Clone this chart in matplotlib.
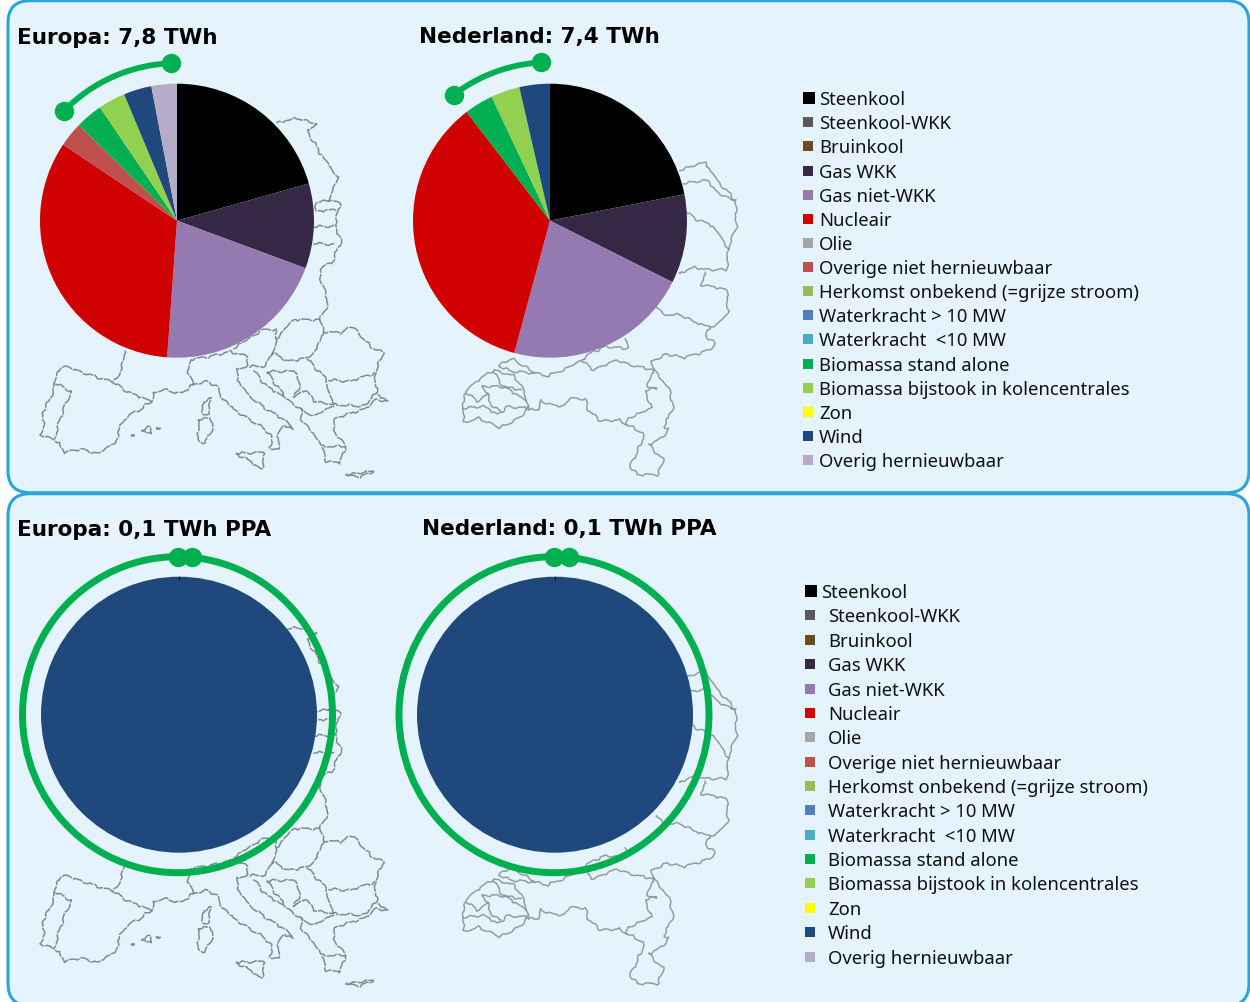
"""Elektriciteitsmix Europa en Nederland, totaal en PPA, op kaartachtergrond."""

import matplotlib

matplotlib.use('Agg')

import matplotlib.pyplot as plt
import numpy as np
from matplotlib.patches import Ellipse, FancyBboxPatch, Rectangle

WIDTH, HEIGHT = 1250, 1003

categories = [
    'Steenkool', 'Steenkool-WKK', 'Bruinkool', 'Gas WKK', 'Gas niet-WKK', 'Nucleair', 'Olie',
    'Overige niet hernieuwbaar', 'Herkomst onbekend (=grijze stroom)', 'Waterkracht > 10 MW',
    'Waterkracht  <10 MW', 'Biomassa stand alone', 'Biomassa bijstook in kolencentrales', 'Zon',
    'Wind', 'Overig hernieuwbaar',
]
colors = [
    '#000000', '#595959', '#6E4A24', '#362945', '#947AB0', '#D00000', '#A6A6A6', '#C0504D',
    '#9BBB59', '#4F81BD', '#4BACC6', '#00B050', '#92D050', '#FFFF00', '#1F497D', '#B7ACC8',
]

# aandeel per categorie in procent, aflezing
europa_mix = [20.6, 0, 0, 10.0, 20.5, 33.2, 0, 2.9, 0, 0, 0, 3.2, 3.2, 0, 3.3, 3.0]
nederland_mix = [21.9, 0, 0, 10.5, 21.8, 35.4, 0, 0, 0, 0, 0, 3.4, 3.4, 0, 3.6, 0]
ppa_mix = [0, 0, 0, 0, 0, 0, 0, 0, 0, 0, 0, 0, 0, 0, 100, 0]

# groene boog: hoeken in graden vanaf boven, met de klok mee
europa_arc = (-2.2, -45.9)
nederland_arc = (-3.3, -37.5)
ppa_dots = (0.0, 5.5)

# kaartlijnen op een raster van 1/3 pixel, oorsprong in EU_ORIGIN / NL_ORIGIN
EU_ORIGIN = (30, 100)
NL_ORIGIN = (450, 150)
EU_LINES = [
    [(250, 848), (200, 832), (150, 815), (108, 800), (80, 815), (75, 850), (60, 900), (35, 940), (45, 965),
     (32, 1005), (65, 1018), (90, 1030), (100, 1058), (150, 1048), (205, 1062), (225, 1045), (245, 1040),
     (265, 1010), (270, 975), (300, 945), (330, 930), (365, 905), (370, 880), (400, 870), (450, 882),
     (490, 855), (530, 843), (560, 860), (575, 895), (620, 935), (660, 960), (700, 985), (725, 1010),
     (720, 1050), (745, 1045), (745, 1000), (760, 975), (790, 990), (770, 965), (720, 935), (665, 895),
     (630, 855), (618, 810), (655, 800)],
    [(75, 850), (125, 875), (105, 915), (90, 960), (75, 1015)],
    [(250, 848), (300, 880), (365, 905)],
    [(285, 750), (275, 810), (250, 848)],
    [(490, 855), (475, 820), (480, 780), (540, 770), (600, 755), (650, 770), (655, 800)],
    [(670, 810), (710, 860), (760, 890), (815, 930), (815, 965), (850, 1000), (875, 1040), (950, 1040),
     (915, 1000), (910, 960), (945, 945), (1000, 930), (1040, 900), (1072, 905), (1040, 880), (1035, 820),
     (1060, 760), (1020, 740), (970, 680), (930, 700), (880, 695), (870, 660), (895, 610), (870, 530),
     (870, 505), (905, 490), (935, 420), (915, 380), (930, 310), (895, 300), (925, 235), (870, 160),
     (830, 90), (865, 75), (800, 55), (740, 70)],
    [(880, 695), (860, 750), (830, 775), (770, 785), (730, 760), (700, 800), (655, 800)],
    [(740, 715), (790, 660), (870, 660)],
    [(610, 745), (700, 690), (740, 690), (740, 715), (730, 760)],
    [(830, 775), (890, 840), (895, 880), (915, 915), (850, 950), (815, 930)],
    [(895, 840), (960, 845), (1035, 820)],
    [(710, 815), (800, 815), (810, 870), (790, 890), (830, 870), (850, 905), (915, 915), (1000, 920), (1040, 880)],
    [(710, 815), (760, 885)],
    [(875, 1040), (890, 1085), (930, 1090), (945, 1045)],
    [(895, 300), (860, 310), (855, 335), (915, 330)],
    [(850, 380), (915, 380)],
    [(850, 430), (915, 435)],
    # eilanden
    [(520, 905), (543, 895), (535, 945), (518, 940), (520, 905)],
    [(505, 958), (545, 955), (548, 985), (525, 1030), (505, 1025), (505, 958)],
    [(335, 990), (360, 980), (368, 998), (350, 1003), (335, 990)],
    [(378, 982), (390, 988), (380, 990), (378, 982)],
    [(302, 1006), (312, 1006), (306, 1010), (302, 1006)],
    [(618, 1060), (650, 1060), (705, 1058), (695, 1110), (660, 1085), (618, 1060)],
    [(950, 1125), (1000, 1118), (1030, 1115), (990, 1132), (950, 1125)],
]
NL_LINES = [
    [(690, 60), (765, 38), (800, 90), (855, 150), (860, 230), (835, 295), (830, 360), (770, 360), (730, 352),
     (690, 372)],
    [(705, 185), (740, 208), (790, 230), (835, 295)],
    [(700, 100), (770, 92), (810, 135), (855, 150)],
    [(765, 365), (755, 405), (830, 420), (835, 490), (795, 530), (750, 525), (690, 495), (640, 495), (620, 470)],
    [(780, 530), (765, 555), (795, 580), (780, 600), (700, 625), (650, 612), (605, 635), (610, 660)],
    [(525, 565), (535, 597), (470, 590), (430, 605), (395, 632), (340, 660), (290, 680), (250, 668), (185, 625),
     (145, 650), (190, 665), (255, 670)],
    [(395, 632), (430, 660), (500, 632), (560, 650), (610, 660), (660, 720), (670, 775), (640, 830), (660, 840),
     (620, 875), (595, 885), (640, 930), (625, 975), (560, 975), (540, 950), (575, 880), (580, 850), (530, 825),
     (510, 810), (450, 815), (415, 780), (405, 748), (355, 745), (345, 770), (300, 765), (270, 750), (265, 780),
     (235, 780), (225, 730), (195, 680), (130, 660), (60, 710), (40, 740), (40, 820), (85, 805), (150, 835),
     (215, 800), (235, 770)],
    [(610, 660), (590, 715), (625, 715), (585, 720), (605, 775), (535, 805), (530, 825)],
    [(50, 730), (85, 755), (115, 730), (95, 710), (150, 710), (215, 720)],
    [(40, 775), (100, 770), (145, 795), (170, 770), (230, 775)],
    [(115, 730), (115, 755), (150, 785)],
    [(130, 665), (160, 710), (225, 750)],
]

GREEN = '#00B050'
LEGEND_ROWS_TOP = [98, 122, 146, 171, 195, 219, 243, 267, 291, 315, 339, 364, 388, 412, 436, 460]
LEGEND_ROWS_BOTTOM = [591, 615, 640, 664, 689, 713, 737, 762, 786, 810, 835, 859, 883, 908, 932, 957]
LEGEND_SIZE = 13.3
TITLE_SIZE = 15.5


def _y(py: float) -> float:
    return HEIGHT - py - 0.7


def _panel(ax, top: float, bottom: float) -> None:
    ax.add_patch(FancyBboxPatch(
        (8, _y(bottom)), 1241, bottom - top,
        boxstyle='round,pad=0,rounding_size=22',
        facecolor='#E5F4FC', edgecolor='#2AA5DB', linewidth=2.2, zorder=1,
    ))


def _wobble(line) -> np.ndarray:
    """Resample a traced border every 2 px and roughen it a little, the borders are hand drawn."""
    pts = np.array(line, dtype=float) / 3
    seg = np.hypot(*np.diff(pts, axis=0).T)
    s = np.concatenate([[0], np.cumsum(seg)])
    t = np.arange(0, s[-1] + 2, 2.0)
    x = np.interp(t, s, pts[:, 0])
    y = np.interp(t, s, pts[:, 1])
    x += 0.9 * np.sin(t / 3.1) + 0.5 * np.sin(t / 1.3)
    y += 0.9 * np.cos(t / 2.3) + 0.5 * np.sin(t / 1.1)
    return np.column_stack([x, y])


def _map(ax, lines, origin, dy=0.0, color='#6F787D', style='-') -> None:
    for line in lines:
        pts = _wobble(line)
        ax.plot(pts[:, 0] + origin[0], _y(pts[:, 1] + origin[1] + dy), color=color, lw=1.1, ls=style, zorder=2,
                solid_joinstyle='round', alpha=0.85)


def _pie(ax, mix, cx, cy, radius) -> None:
    wedges, _ = ax.pie(
        mix, colors=colors, center=(cx, _y(cy)), radius=radius, startangle=90, counterclock=False,
        wedgeprops={'linewidth': 0},
    )
    for wedge in wedges:
        wedge.set_zorder(3)


def _arc(ax, cx, cy, radius, angles) -> None:
    theta = np.radians(np.linspace(angles[0], angles[1], 60))
    ax.plot(cx + radius * np.sin(theta), _y(cy) + radius * np.cos(theta), color=GREEN, lw=4.2, zorder=4)
    ax.plot(cx + radius * np.sin(np.radians(angles)), _y(cy) + radius * np.cos(np.radians(angles)),
            'o', color=GREEN, ms=14, mew=0, zorder=5)


def _ring(ax, cx, cy, rx, ry, dots) -> None:
    ax.add_patch(Ellipse((cx, _y(cy)), 2 * rx, 2 * ry, fill=False, edgecolor=GREEN, lw=5.0, zorder=4))
    ax.plot(cx + rx * np.sin(np.radians(dots)), _y(cy) + ry * np.cos(np.radians(dots)),
            'o', color=GREEN, ms=14, mew=0, zorder=5)


def _legend(ax, rows, box_x, text_xs) -> None:
    for i, (label, color, row, text_x) in enumerate(zip(categories, colors, rows, text_xs)):
        # het eerste blokje is net iets groter
        size = 12 if i == 0 else 10
        ax.add_patch(Rectangle((box_x, _y(row + size / 2)), size, size, facecolor=color, edgecolor='none', zorder=3))
        ax.text(text_x, _y(row + 6), label, fontsize=LEGEND_SIZE, va='baseline', ha='left', color='#111111', zorder=3)


def main() -> None:
    plt.rcParams['font.family'] = ['Noto Sans', 'DejaVu Sans']
    fig = plt.figure(figsize=(WIDTH / 100, HEIGHT / 100), dpi=100)
    ax = fig.add_axes((0, 0, 1, 1))

    _panel(ax, 1, 493)
    _panel(ax, 494, 1006)

    _map(ax, EU_LINES, EU_ORIGIN, style=(0, (7, 0.7)))
    _map(ax, EU_LINES, EU_ORIGIN, dy=509, style=(0, (7, 0.7)))
    _map(ax, NL_LINES, NL_ORIGIN, color='#858D91')
    _map(ax, NL_LINES, NL_ORIGIN, dy=509, color='#858D91')

    _pie(ax, europa_mix, 177, 221, 137)
    _pie(ax, nederland_mix, 550, 221, 137)
    _pie(ax, ppa_mix, 179, 715, 138)
    _pie(ax, ppa_mix, 555, 715, 138)

    # pie() zet eigen limieten, daarom pas hier het pixelraster vastleggen
    ax.set_xlim(0, WIDTH)
    ax.set_ylim(0, HEIGHT)
    ax.set_aspect('auto')
    ax.axis('off')

    # streepje van de lege sectoren bovenaan
    for cx in (179, 555):
        ax.plot([cx, cx], [_y(577), _y(579)], color='#000000', lw=0.8, zorder=4)

    _arc(ax, 177, 221, 157.5, europa_arc)
    _arc(ax, 550, 221, 158.5, nederland_arc)
    _ring(ax, 177.5, 715, 155, 158, ppa_dots)
    _ring(ax, 554, 715, 155, 158, ppa_dots)

    titles = [
        (17, 43, 'Europa: 7,8 TWh'), (419, 42, 'Nederland: 7,4 TWh'),
        (17, 535, 'Europa: 0,1 TWh PPA'), (422, 534, 'Nederland: 0,1 TWh PPA'),
    ]
    for x, py, label in titles:
        ax.text(x, _y(py), label, fontsize=TITLE_SIZE, family='DejaVu Sans', fontweight='bold', va='baseline',
                color='#000000', zorder=6)

    _legend(ax, LEGEND_ROWS_TOP, 803, [819] * 16)
    _legend(ax, LEGEND_ROWS_BOTTOM, 805, [821] + [828] * 15)

    fig.savefig('out.png', dpi=100)


if __name__ == '__main__':
    main()
